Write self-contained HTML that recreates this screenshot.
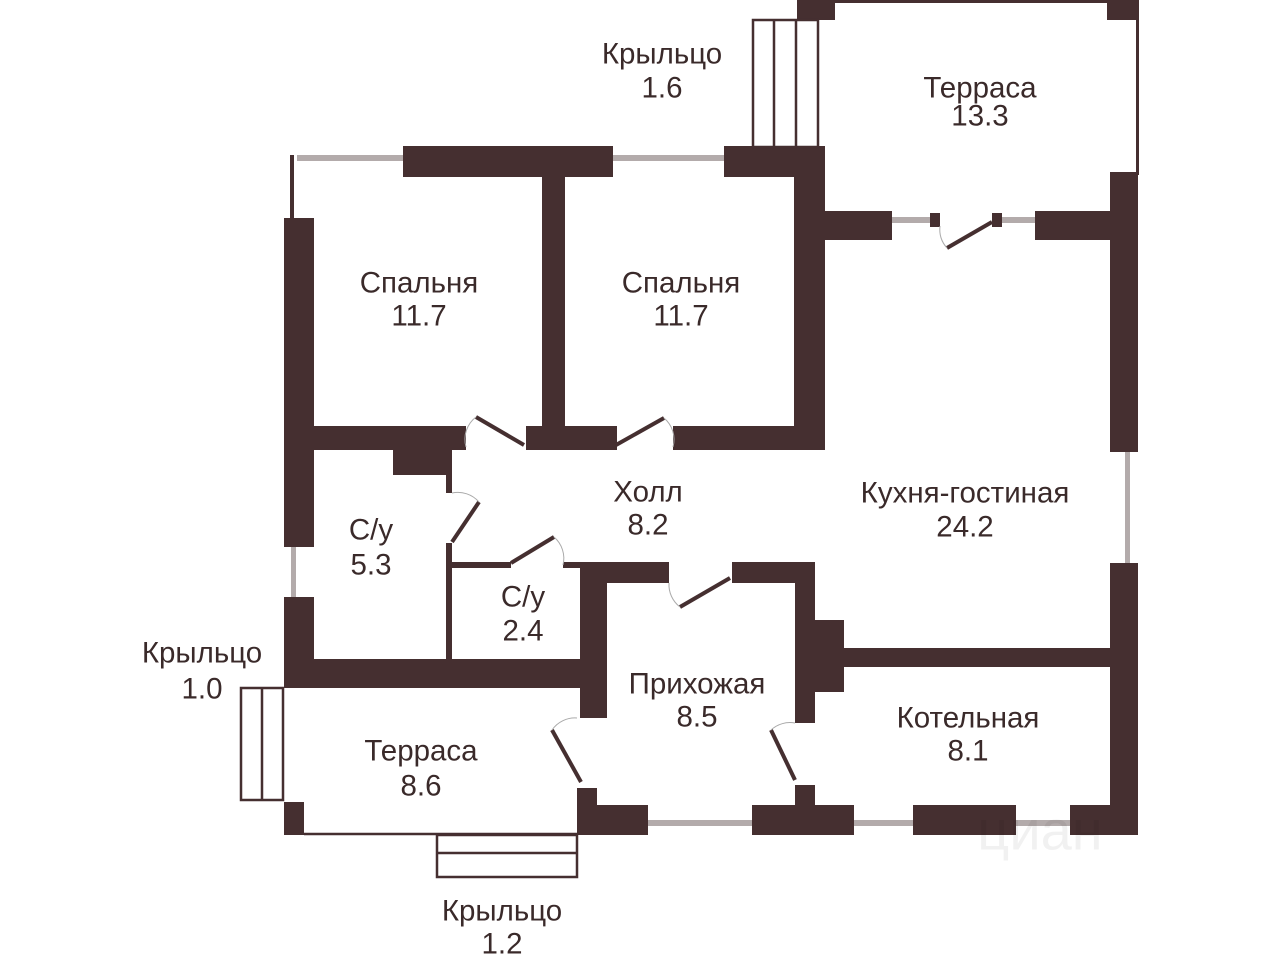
<!DOCTYPE html>
<html><head><meta charset="utf-8"><style>
html,body{margin:0;padding:0;background:#fff;}
svg{display:block}
text{font-family:"Liberation Sans",sans-serif;font-size:29.5px;fill:#3a2a2a;text-anchor:middle;dominant-baseline:central}
</style></head><body>
<svg width="1280" height="960" viewBox="0 0 1280 960" xmlns="http://www.w3.org/2000/svg">
<g fill="#b3abab">
<rect x="297" y="155" width="106" height="6"/>
<rect x="613" y="155" width="111" height="6"/>
<rect x="892" y="217" width="38" height="6"/>
<rect x="1002" y="217" width="33" height="6"/>
<rect x="291" y="547" width="5" height="50"/>
<rect x="1125" y="452" width="5" height="111"/>
<rect x="648" y="820" width="104" height="6"/>
<rect x="854" y="820" width="59" height="6"/>
<rect x="1016" y="820" width="58" height="6"/>
</g>
<g fill="#452f30">
<rect x="290" y="155" width="4" height="65"/>
<rect x="284" y="218" width="30" height="329"/>
<rect x="403" y="146" width="210" height="31"/>
<rect x="542" y="146" width="23" height="304"/>
<rect x="724" y="146" width="101" height="31"/>
<rect x="794" y="146" width="31" height="304"/>
<rect x="313" y="426" width="153" height="24"/>
<rect x="526" y="426" width="91" height="24"/>
<rect x="673" y="426" width="152" height="24"/>
<rect x="797" y="0" width="341" height="3"/>
<rect x="797" y="0" width="38" height="20"/>
<rect x="1107" y="0" width="31" height="20"/>
<rect x="1136" y="0" width="3" height="175"/>
<rect x="825" y="211" width="67" height="29"/>
<rect x="930" y="213" width="10" height="14"/>
<rect x="992" y="213" width="10" height="14"/>
<rect x="1035" y="211" width="80" height="29"/>
<rect x="1110" y="172" width="28" height="280"/>
<rect x="393" y="450" width="59" height="25"/>
<rect x="446" y="450" width="6" height="43"/>
<rect x="446" y="543" width="6" height="120"/>
<rect x="284" y="597" width="30" height="91"/>
<rect x="284" y="659" width="321" height="29"/>
<rect x="452" y="562" width="59" height="6"/>
<rect x="563" y="562" width="22" height="6"/>
<rect x="585" y="562" width="84" height="21"/>
<rect x="732" y="562" width="83" height="21"/>
<rect x="580" y="562" width="27" height="156"/>
<rect x="795" y="562" width="20" height="161"/>
<rect x="815" y="620" width="29" height="72"/>
<rect x="844" y="648" width="266" height="19"/>
<rect x="1110" y="563" width="28" height="272"/>
<rect x="284" y="802" width="20" height="33"/>
<rect x="577" y="788" width="20" height="47"/>
<rect x="577" y="805" width="71" height="30"/>
<rect x="795" y="785" width="20" height="25"/>
<rect x="752" y="805" width="102" height="30"/>
<rect x="913" y="805" width="103" height="30"/>
<rect x="1070" y="805" width="68" height="30"/>
</g>
<g fill="none" stroke="#452f30" stroke-width="2.5">
<line x1="304" y1="834" x2="577" y2="834"/>
<rect x="753" y="20" width="65" height="127"/>
<line x1="774" y1="20" x2="774" y2="147"/><line x1="796" y1="20" x2="796" y2="147"/>
<rect x="241" y="688" width="42" height="112"/>
<line x1="262" y1="688" x2="262" y2="800"/>
<rect x="437" y="835" width="140" height="42"/>
<line x1="437" y1="853" x2="577" y2="853"/>
</g>
<g stroke="#452f30" stroke-width="4">
<line x1="476" y1="417" x2="524" y2="445"/>
<line x1="616" y1="445" x2="664" y2="418"/>
<line x1="947" y1="248" x2="992" y2="222"/>
<line x1="479" y1="502" x2="452" y2="542"/>
<line x1="511" y1="563" x2="554" y2="537"/>
<line x1="680" y1="607" x2="730" y2="578"/>
<line x1="581" y1="782" x2="552" y2="730"/>
<line x1="795" y1="780" x2="771" y2="730"/>
</g>
<g fill="none" stroke="#aaa" stroke-width="1">
<path d="M466 447 A28 28 0 0 1 476 417"/>
<path d="M664 418 A28 28 0 0 1 673 447"/>
<path d="M940 226 A28 28 0 0 0 947 248"/>
<path d="M452 493 A28 28 0 0 1 479 502"/>
<path d="M554 537 A28 28 0 0 1 563 565"/>
<path d="M669 583 A28 28 0 0 0 680 607"/>
<path d="M577 718 A28 28 0 0 0 552 730"/>
<path d="M795 723 A28 28 0 0 0 771 730"/>
</g>
<text x="1040" y="830" style="font-size:56px;fill:#000;opacity:0.05">циан</text>
<text x="662" y="54">Крыльцо</text><text x="662" y="88">1.6</text>
<text x="980" y="88">Терраса</text><text x="980" y="116">13.3</text>
<text x="419" y="283">Спальня</text><text x="419" y="316">11.7</text>
<text x="681" y="283">Спальня</text><text x="681" y="316">11.7</text>
<text x="648" y="492">Холл</text><text x="648" y="525">8.2</text>
<text x="965" y="493">Кухня-гостиная</text><text x="965" y="527">24.2</text>
<text x="371" y="530">С/у</text><text x="371" y="565">5.3</text>
<text x="523" y="597">С/у</text><text x="523" y="631">2.4</text>
<text x="202" y="653">Крыльцо</text><text x="202" y="689">1.0</text>
<text x="697" y="684">Прихожая</text><text x="697" y="717">8.5</text>
<text x="421" y="751">Терраса</text><text x="421" y="786">8.6</text>
<text x="968" y="718">Котельная</text><text x="968" y="751">8.1</text>
<text x="502" y="911">Крыльцо</text><text x="502" y="944">1.2</text>
</svg>
</body></html>
